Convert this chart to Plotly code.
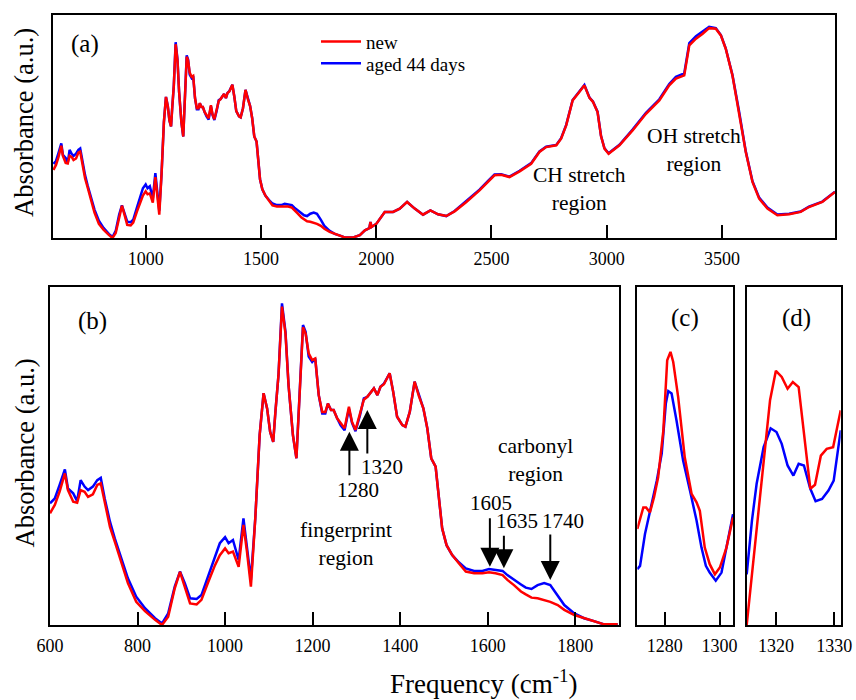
import plotly.graph_objects as go

W, H = 856, 700

# ---------------- full spectrum (panels a and b) ----------------
freq = [600, 611, 622, 634, 641, 653, 662, 670, 679, 687, 698, 708, 716, 725, 737, 748, 763, 778, 797, 817,
        840, 856, 870, 885, 897, 908, 920, 935, 946, 962, 977, 988, 1000, 1008, 1018, 1031, 1042, 1050, 1059, 1069,
        1079, 1088, 1096, 1103, 1110, 1115, 1122, 1130, 1138, 1145, 1155, 1163, 1170, 1178, 1184, 1191, 1199, 1206, 1214, 1222,
        1229, 1235, 1242, 1248, 1256, 1264, 1273, 1283, 1290, 1298, 1308, 1317, 1325, 1332, 1340, 1348, 1355, 1363, 1370, 1376,
        1384, 1393, 1405, 1412, 1422, 1433, 1443, 1453, 1462, 1471, 1481, 1489, 1496, 1506, 1519, 1534, 1550, 1569, 1588, 1603,
        1618, 1634, 1645, 1660, 1676, 1687, 1700, 1714, 1729, 1743, 1760, 1775, 1798, 1820, 1843, 1866, 1897, 1929, 1951, 1970,
        1975, 1980, 2001, 2037, 2073, 2102, 2134, 2167, 2203, 2235, 2268, 2304, 2340, 2391, 2448, 2484, 2513, 2542, 2578, 2622,
        2672, 2708, 2737, 2781, 2802, 2824, 2852, 2881, 2903, 2925, 2940, 2960, 2975, 2990, 3008, 3055, 3112, 3170, 3228, 3271,
        3300, 3336, 3358, 3387, 3416, 3444, 3473, 3495, 3516, 3545, 3574, 3603, 3632, 3661, 3697, 3740, 3791, 3841, 3877, 3935,
        3990]

absorb_new = [0.347, 0.373, 0.414, 0.471, 0.419, 0.383, 0.380, 0.419, 0.414, 0.398, 0.406, 0.435, 0.440, 0.378, 0.305, 0.259, 0.192, 0.130, 0.072, 0.043,
              0.016, 0.000, 0.026, 0.114, 0.165, 0.119, 0.067, 0.064, 0.078, 0.135, 0.186, 0.217, 0.238, 0.223, 0.228, 0.181, 0.311, 0.228, 0.119, 0.331,
              0.590, 0.720, 0.673, 0.600, 0.569, 0.662, 0.776, 0.989, 0.905, 0.745, 0.590, 0.518, 0.693, 0.925, 0.905, 0.844, 0.823, 0.828, 0.714, 0.662,
              0.662, 0.688, 0.668, 0.668, 0.642, 0.626, 0.611, 0.678, 0.631, 0.606, 0.652, 0.700, 0.709, 0.723, 0.735, 0.714, 0.740, 0.748, 0.766, 0.782,
              0.725, 0.647, 0.621, 0.616, 0.662, 0.756, 0.710, 0.673, 0.611, 0.518, 0.492, 0.383, 0.300, 0.248, 0.217, 0.192, 0.166, 0.161, 0.161, 0.164,
              0.161, 0.155, 0.140, 0.124, 0.104, 0.095, 0.085, 0.083, 0.078, 0.072, 0.062, 0.047, 0.031, 0.021, 0.012, 0.002, 0.002, 0.014, 0.039, 0.050,
              0.082, 0.056, 0.073, 0.133, 0.133, 0.150, 0.184, 0.150, 0.119, 0.141, 0.121, 0.112, 0.136, 0.184, 0.243, 0.286, 0.320, 0.323, 0.311, 0.340,
              0.379, 0.439, 0.464, 0.473, 0.507, 0.575, 0.702, 0.745, 0.779, 0.715, 0.695, 0.643, 0.520, 0.456, 0.430, 0.473, 0.549, 0.634, 0.702, 0.779,
              0.813, 0.830, 0.983, 1.017, 1.042, 1.071, 1.068, 1.034, 0.966, 0.830, 0.643, 0.439, 0.286, 0.201, 0.150, 0.116, 0.121, 0.133, 0.158, 0.184,
              0.235]

absorb_aged = [0.378, 0.393, 0.435, 0.483, 0.424, 0.409, 0.385, 0.450, 0.430, 0.419, 0.430, 0.450, 0.457, 0.393, 0.321, 0.269, 0.207, 0.145, 0.088, 0.052,
               0.021, 0.005, 0.036, 0.119, 0.166, 0.130, 0.083, 0.081, 0.093, 0.155, 0.207, 0.254, 0.273, 0.254, 0.264, 0.202, 0.331, 0.238, 0.140, 0.331,
               0.590, 0.720, 0.673, 0.600, 0.569, 0.662, 0.776, 0.999, 0.911, 0.745, 0.590, 0.518, 0.693, 0.932, 0.911, 0.834, 0.817, 0.828, 0.714, 0.657,
               0.657, 0.688, 0.668, 0.668, 0.642, 0.620, 0.605, 0.672, 0.628, 0.602, 0.650, 0.704, 0.709, 0.720, 0.735, 0.714, 0.740, 0.750, 0.766, 0.782,
               0.725, 0.647, 0.621, 0.616, 0.662, 0.756, 0.715, 0.673, 0.611, 0.518, 0.492, 0.383, 0.300, 0.248, 0.217, 0.195, 0.176, 0.168, 0.168, 0.174,
               0.170, 0.168, 0.155, 0.140, 0.126, 0.116, 0.112, 0.124, 0.130, 0.124, 0.093, 0.062, 0.036, 0.021, 0.012, 0.002, 0.002, 0.014, 0.039, 0.050,
               0.082, 0.056, 0.073, 0.133, 0.133, 0.150, 0.184, 0.150, 0.119, 0.141, 0.121, 0.112, 0.138, 0.188, 0.247, 0.290, 0.324, 0.325, 0.313, 0.343,
               0.382, 0.442, 0.466, 0.475, 0.509, 0.577, 0.704, 0.748, 0.781, 0.717, 0.697, 0.645, 0.522, 0.458, 0.432, 0.476, 0.553, 0.639, 0.708, 0.786,
               0.822, 0.840, 0.995, 1.030, 1.053, 1.078, 1.071, 1.036, 0.968, 0.833, 0.646, 0.442, 0.290, 0.206, 0.155, 0.120, 0.124, 0.135, 0.160, 0.186,
               0.236]

# ---------------- panel (c) : 1280 band ----------------
c_freq_new = [1270, 1272.2, 1273.2, 1274.6, 1276.1, 1277.6, 1279.5, 1280.9, 1282.1, 1283.1, 1284.9, 1287.3, 1289.8, 1291.6,
              1292.8, 1294.6, 1296.4, 1298.3, 1300.1, 1302.5, 1304.9]
c_new = [0.284, 0.348, 0.348, 0.333, 0.378, 0.437, 0.576, 0.783, 0.808, 0.778, 0.674, 0.496, 0.388, 0.363,
         0.338, 0.229, 0.180, 0.150, 0.170, 0.229, 0.318]
c_freq_aged = [1270, 1271, 1272.8, 1274.6, 1277.1, 1278.9, 1280.4, 1281.3, 1282.5, 1284.3, 1286.7, 1289.2, 1291.6, 1293.4,
               1295, 1296.4, 1298.6, 1300.7, 1302.5, 1304.9]
c_aged = [0.165, 0.175, 0.269, 0.338, 0.427, 0.507, 0.655, 0.692, 0.685, 0.605, 0.487, 0.398, 0.309, 0.229,
          0.175, 0.155, 0.131, 0.155, 0.229, 0.328]

# ---------------- panel (d) : 1320 band ----------------
d_freq_new = [1315, 1316.7, 1318.1, 1319, 1320, 1321, 1322, 1322.9, 1323.9, 1324.7, 1325.9, 1326.7, 1327.7, 1328.7, 1329.8, 1331.1]
d_new = [0.000, 0.289, 0.507, 0.665, 0.752, 0.734, 0.699, 0.719, 0.704, 0.576, 0.403, 0.415, 0.501, 0.521, 0.526, 0.635]
d_freq_aged = [1315, 1315.9, 1316.7, 1317.9, 1319.1, 1320.1, 1321, 1322, 1323, 1323.9, 1324.8, 1325.9, 1326.8, 1327.9, 1329, 1329.9, 1331.1]
d_aged = [0.150, 0.309, 0.418, 0.526, 0.582, 0.571, 0.536, 0.472, 0.442, 0.477, 0.472, 0.403, 0.366, 0.373, 0.398, 0.427, 0.576]

ticks_a = [1000, 1500, 2000, 2500, 3000, 3500]
ticks_b = [600, 800, 1000, 1200, 1400, 1600, 1800]
ticks_c = [1280, 1300]
ticks_d = [1320, 1330]

RED = "#ff0000"
BLUE = "#0000ff"
FONT = "Liberation Serif"
LW = 2.5

fig = go.Figure()

def add_pair(xa, ya, xn, yn, xref, yref, legend=False):
    fig.add_trace(go.Scatter(x=xa, y=ya, mode="lines", line=dict(color=BLUE, width=LW),
                             name="aged 44 days", showlegend=legend, legend="legend2",
                             xaxis=xref, yaxis=yref))
    fig.add_trace(go.Scatter(x=xn, y=yn, mode="lines", line=dict(color=RED, width=LW),
                             name="new", showlegend=legend, legend="legend",
                             xaxis=xref, yaxis=yref))

add_pair(freq, absorb_aged, freq, absorb_new, "x", "y", legend=True)
b_idx = [i for i, f in enumerate(freq) if f <= 1900]
add_pair([freq[i] for i in b_idx], [absorb_aged[i] for i in b_idx],
         [freq[i] for i in b_idx], [absorb_new[i] for i in b_idx], "x2", "y2")
add_pair(c_freq_aged, c_aged, c_freq_new, c_new, "x3", "y3")
add_pair(d_freq_aged, d_aged, d_freq_new, d_new, "x4", "y4")

def px(v):
    return v / W

def py(v):
    return 1 - v / H

def xax(domain, rng, tickvals, anchor):
    return dict(domain=domain, range=rng, tickvals=tickvals, ticks="inside", ticklen=13, tickwidth=2,
                tickcolor="black", showline=True, mirror=True, linewidth=2, linecolor="black",
                showgrid=False, zeroline=False, ticklabelstandoff=3, automargin=False, anchor=anchor,
                tickfont=dict(family=FONT, size=18, color="black"))

def yax(domain, rng, anchor):
    return dict(domain=domain, range=rng, showticklabels=False, ticks="", showline=True, mirror=True,
                linewidth=2, linecolor="black", showgrid=False, zeroline=False, automargin=False,
                anchor=anchor)

y_top = [py(238), py(15)]
y_bot = [py(625), py(287)]

leg_common = dict(xanchor="left", yanchor="middle", bgcolor="rgba(0,0,0,0)", itemwidth=40,
                  font=dict(family=FONT, size=19, color="black"), borderwidth=0)

fig.update_layout(
    width=W, height=H, autosize=False,
    margin=dict(l=0, r=0, t=0, b=0, pad=0, autoexpand=False),
    paper_bgcolor="white", plot_bgcolor="white",
    font=dict(family=FONT, color="black"),
    xaxis=xax([px(53), px(835)], [598, 3990], ticks_a, "y"),
    yaxis=yax(y_top, [0, 1.138], "x"),
    xaxis2=xax([px(50), px(619)], [600, 1900], ticks_b, "y2"),
    yaxis2=yax(y_bot, [0, 1.05], "x2"),
    xaxis3=xax([px(637.3), px(733.3)], [1270, 1305], ticks_c, "y3"),
    yaxis3=yax(y_bot, [0, 1.0], "x3"),
    xaxis4=xax([px(746.7), px(840.7)], [1315, 1331.1], ticks_d, "y4"),
    yaxis4=yax(y_bot, [0, 1.0], "x4"),
    legend=dict(leg_common, x=px(316), y=py(41.7)),
    legend2=dict(leg_common, x=px(316), y=py(63.3)),
    showlegend=True,
)

ann = []

def text(x, y, s, size, angle=0):
    ann.append(dict(x=px(x), y=py(y), xref="paper", yref="paper", text=s, showarrow=False, textangle=angle,
                    xanchor="center", yanchor="middle", font=dict(family=FONT, size=size, color="black")))

text(85, 44, "(a)", 25)
text(92.7, 321, "(b)", 25)
text(685, 318, "(c)", 25)
text(796.7, 318, "(d)", 25)
text(579.7, 189, "CH stretch<br>region", 21.5)
text(694, 150, "OH stretch<br>region", 21.5)
text(346.3, 544, "fingerprint<br>region", 21.5)
text(535, 460.5, "carbonyl<br>region", 21.5)
text(357.8, 490, "1280", 21)
text(382, 467.3, "1320", 21)
text(490.8, 502.5, "1605", 21)
text(517, 520.8, "1635", 21)
text(562.8, 520.8, "1740", 21)
text(483, 682, "Frequency (cm<sup>-1</sup>)", 27)
text(24, 123, "Absorbance (a.u.)", 26.5, -90)
text(24, 453.5, "Absorbance (a.u.)", 26.5, -90)

def arrow(x, y, ay):
    ann.append(dict(x=x, y=y, xref="x2", yref="y2", ax=0, ay=ay, text="", showarrow=True,
                    arrowhead=2, arrowsize=1.9, arrowwidth=2, arrowcolor="black", standoff=0))

arrow(1284, 0.600, 45)
arrow(1325, 0.668, 45)
arrow(1605, 0.181, -50)
arrow(1637, 0.176, -34)
arrow(1743, 0.140, -47)

fig.update_layout(annotations=ann)
fig.write_html("out.html", config={"responsive": False, "displayModeBar": False},
               post_script="document.body.style.margin='0';document.body.style.padding='0';"
                           "document.body.style.overflow='hidden';")
